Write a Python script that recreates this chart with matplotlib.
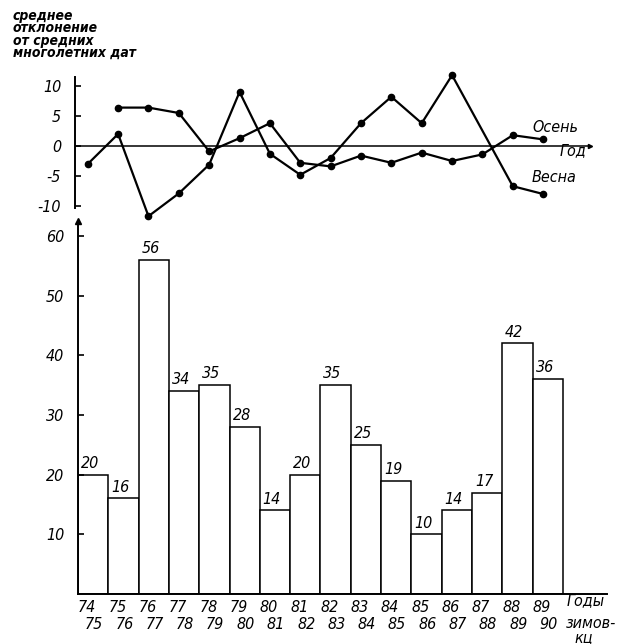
import matplotlib
matplotlib.use("Agg")
import matplotlib.pyplot as plt
import numpy as np

plt.rcParams['font.family'] = ['DejaVu Sans']
plt.rcParams['font.style'] = 'italic'
plt.rcParams['font.stretch'] = 'condensed'

# ---- data ----
seasons_top = ["74", "75", "76", "77", "78", "79", "80", "81", "82", "83", "84", "85", "86", "87", "88", "89"]
seasons_bot = ["75", "76", "77", "78", "79", "80", "81", "82", "83", "84", "85", "86", "87", "88", "89", "90"]
wintering = [20, 16, 56, 34, 35, 28, 14, 20, 35, 25, 19, 10, 14, 17, 42, 36]
spring = [-3.0, 2.0, -11.7, -7.9, -3.1, 9.0, -1.3, -4.8, -2.0, 3.8, 8.2, 3.8, 11.8, None, -6.7, -8.0]
autumn = [None, 6.4, 6.4, 5.5, -0.9, 1.3, 3.8, -2.8, -3.4, -1.6, -2.8, -1.1, -2.5, -1.4, 1.8, 1.1]
top_yticks = [-10, -5, 0, 5, 10]
top_yticklabels = ["-10", "-5", "0", "5", "10"]
bot_yticks = [10, 20, 30, 40, 50, 60]

W, H = 620, 644
fig = plt.figure(figsize=(W / 100, H / 100), dpi=100)


def rect(l, t, r, b):
    return [l / W, 1 - b / H, (r - l) / W, (b - t) / H]


FS = 11.5

# ---- bottom bar chart ----
bx0, bx1, by0, by1 = 78, 607, 221, 594
pxu_x = 30.3
pxu_y = 5.97
ax = fig.add_axes(rect(bx0, by0, bx1, by1))
n = len(wintering)
xs = np.arange(n) + 0.5
ax.bar(xs, wintering, width=1.0, color='white', edgecolor='black', linewidth=1.1)
ax.set_xlim(0, (bx1 - bx0) / pxu_x)
ax.set_ylim(0, (by1 - by0) / pxu_y)
for s in ['top', 'right']:
    ax.spines[s].set_visible(False)
for s in ['left', 'bottom']:
    ax.spines[s].set_linewidth(1.4)
ax.set_yticks(bot_yticks)
ax.set_yticklabels([str(v) for v in bot_yticks])
ax.tick_params(axis='y', direction='in', length=4, width=1.2, pad=10, labelsize=FS)
ax.set_xticks([])
ax.plot(0, 1, marker='^', ms=5, color='black', transform=ax.transAxes, clip_on=False)
for x, v in zip(xs, wintering):
    ax.text(x - 0.1, v + 0.6, str(v), ha='center', va='bottom', fontsize=FS)
for x, a, b in zip(xs, seasons_top, seasons_bot):
    ax.text(x - 0.2, -2.3, a, ha='center', va='center', fontsize=FS, clip_on=False)
    ax.text(x + 0.03, -5.1, b, ha='center', va='center', fontsize=FS, clip_on=False)
fig.text(567 / W, 1 - 601 / H, "Годы", ha='left', va='center', fontsize=FS)
fig.text(566 / W, 1 - 623 / H, "зимов-", ha='left', va='center', fontsize=FS)
fig.text(574 / W, 1 - 638 / H, "кц", ha='left', va='center', fontsize=FS)

# ---- top line chart ----
tx0, tx1, ty0, ty1 = 75, 600, 70, 222
zero_y = 146
tpx_y = 6.0
tpx_x = 30.36
ax2 = fig.add_axes(rect(tx0, ty0, tx1, ty1))
ax2.set_xlim(0, (tx1 - tx0) / tpx_x)
ax2.set_ylim(-(ty1 - zero_y) / tpx_y, (zero_y - ty0) / tpx_y)
ax2.patch.set_alpha(0)
for s in ['top', 'right', 'bottom']:
    ax2.spines[s].set_visible(False)
ax2.spines['left'].set_linewidth(1.4)
ax2.spines['left'].set_bounds(-10.3, 11.5)
ax2.set_xticks([])
ax2.set_yticks(top_yticks)
ax2.set_yticklabels(top_yticklabels)
ax2.tick_params(axis='y', direction='in', length=4, width=1.2, pad=10, labelsize=FS)
end_x = (590 - tx0) / tpx_x
ax2.plot([0, end_x], [0, 0], color='black', lw=1.1)
ax2.plot(end_x, 0, marker='>', ms=3, color='black', clip_on=False)


def series(vals):
    px = [0.42 + i for i, v in enumerate(vals) if v is not None]
    py = [v for v in vals if v is not None]
    return px, py


sx, sy = series(spring)
ax2.plot(sx, sy, color='black', lw=1.6, marker='o', ms=4.5, clip_on=False)
ox, oy = series(autumn)
ax2.plot(ox, oy, color='black', lw=1.6, marker='o', ms=4.5, clip_on=False)

fig.text(532 / W, 1 - 127 / H, "Осень", ha='left', va='center', fontsize=FS)
fig.text(560 / W, 1 - 151 / H, "Год", ha='left', va='center', fontsize=FS)
fig.text(532 / W, 1 - 178 / H, "Весна", ha='left', va='center', fontsize=FS)

fig.text(13 / W, 1 - 9 / H, "среднее\nотклонение\nот средних\nмноголетних дат",
         ha='left', va='top', fontsize=10, linespacing=0.85, fontweight='bold')

fig.savefig("out.png", dpi=100, facecolor='white')
